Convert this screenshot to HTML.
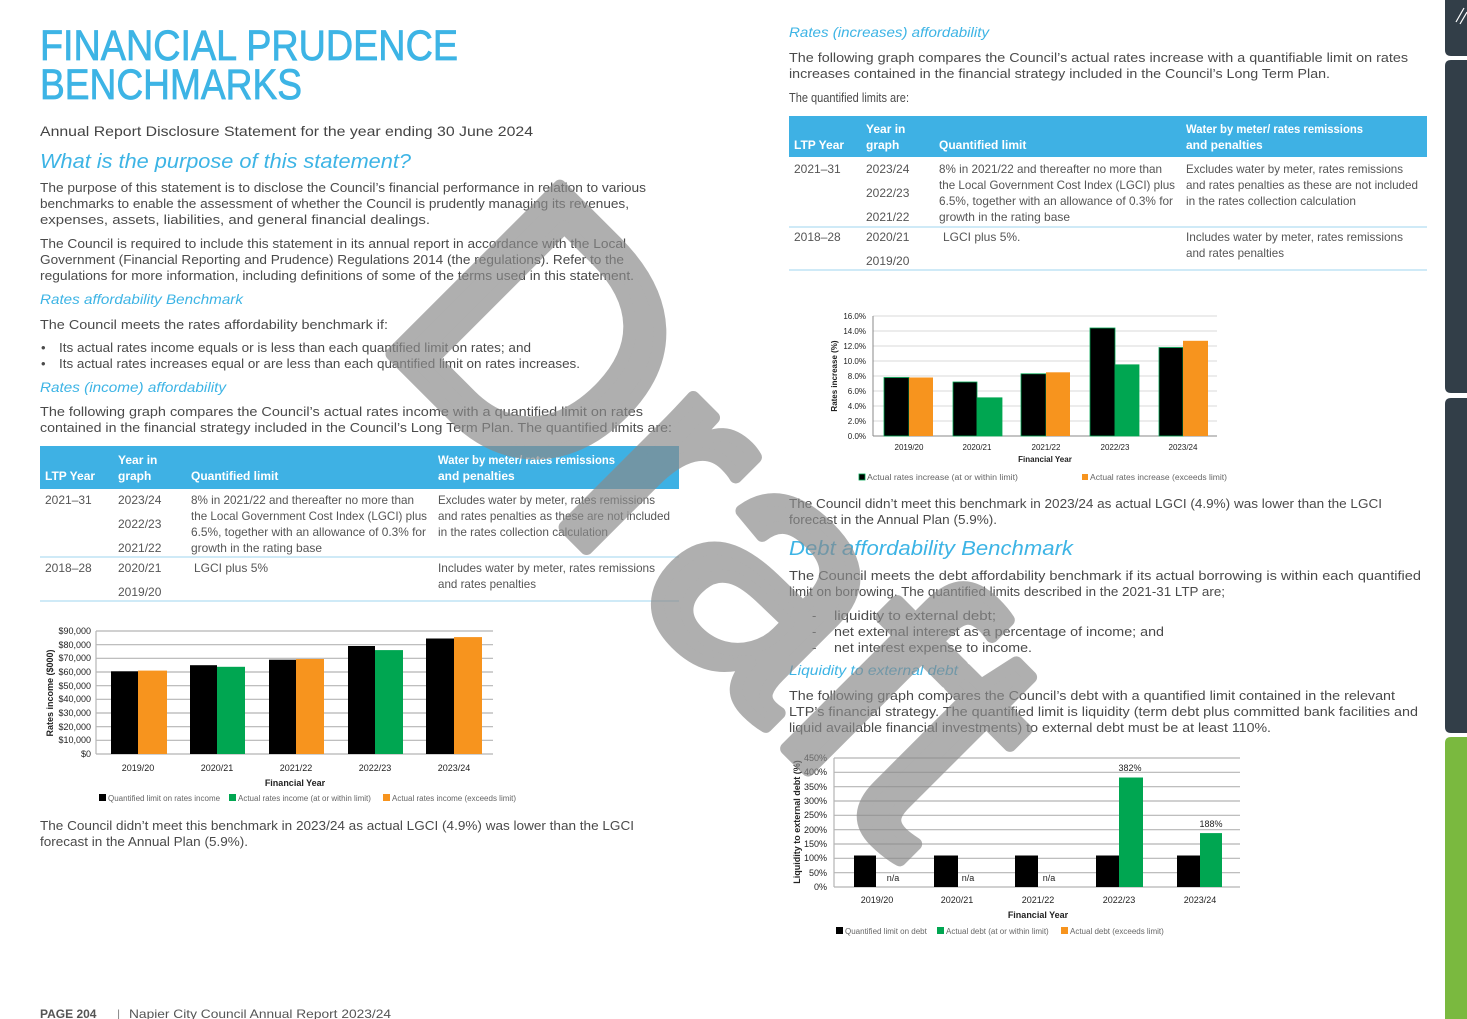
<!DOCTYPE html>
<html><head><meta charset="utf-8"><style>
html,body{margin:0;padding:0;background:#fff;}
svg{display:block;font-family:"Liberation Sans",sans-serif;}
.b{fill:#4a4a4a;font-size:13px;}
.t{fill:#555;font-size:12px;}
.h{fill:#fff;font-size:12px;font-weight:bold;}
.c{fill:#3db4e5;font-style:italic;}
.ax{fill:#222;font-size:9px;}
.ax2{fill:#222;font-size:8px;}
.lg{fill:#666;font-size:8px;}
.g{stroke:#b5b5b5;stroke-width:1.2;}
</style></head><body>
<svg width="1467" height="1019" viewBox="0 0 1467 1019" xmlns="http://www.w3.org/2000/svg">
<!-- LEFT COLUMN -->
<text x="40" y="60" fill="#3db4e5" stroke="#3db4e5" stroke-width="0.8" font-size="43" textLength="418" lengthAdjust="spacingAndGlyphs">FINANCIAL PRUDENCE</text>
<text x="40" y="99" fill="#3db4e5" stroke="#3db4e5" stroke-width="0.8" font-size="43" textLength="262" lengthAdjust="spacingAndGlyphs">BENCHMARKS</text>
<text x="40" y="136" fill="#444" font-size="14" textLength="493" lengthAdjust="spacingAndGlyphs">Annual Report Disclosure Statement for the year ending 30 June 2024</text>
<text x="40" y="168" class="c" font-size="20" textLength="371" lengthAdjust="spacingAndGlyphs">What is the purpose of this statement?</text>
<text x="40" y="192" class="b" textLength="606" lengthAdjust="spacingAndGlyphs">The purpose of this statement is to disclose the Council’s financial performance in relation to various</text>
<text x="40" y="208" class="b" textLength="589" lengthAdjust="spacingAndGlyphs">benchmarks to enable the assessment of whether the Council is prudently managing its revenues,</text>
<text x="40" y="224" class="b" textLength="390" lengthAdjust="spacingAndGlyphs">expenses, assets, liabilities, and general financial dealings.</text>
<text x="40" y="248" class="b" textLength="586" lengthAdjust="spacingAndGlyphs">The Council is required to include this statement in its annual report in accordance with the Local</text>
<text x="40" y="264" class="b" textLength="584" lengthAdjust="spacingAndGlyphs">Government (Financial Reporting and Prudence) Regulations 2014 (the regulations). Refer to the</text>
<text x="40" y="280" class="b" textLength="594" lengthAdjust="spacingAndGlyphs">regulations for more information, including definitions of some of the terms used in this statement.</text>
<text x="40" y="304" class="c" font-size="14" textLength="203" lengthAdjust="spacingAndGlyphs">Rates affordability Benchmark</text>
<text x="40" y="329" class="b" textLength="348" lengthAdjust="spacingAndGlyphs">The Council meets the rates affordability benchmark if:</text>
<text x="41" y="352" class="b">•</text>
<text x="59" y="352" class="b" textLength="472" lengthAdjust="spacingAndGlyphs">Its actual rates income equals or is less than each quantified limit on rates; and</text>
<text x="41" y="368" class="b">•</text>
<text x="59" y="368" class="b" textLength="521" lengthAdjust="spacingAndGlyphs">Its actual rates increases equal or are less than each quantified limit on rates increases.</text>
<text x="40" y="392" class="c" font-size="14" textLength="186" lengthAdjust="spacingAndGlyphs">Rates (income) affordability</text>
<text x="40" y="416" class="b" textLength="603" lengthAdjust="spacingAndGlyphs">The following graph compares the Council’s actual rates income with a quantified limit on rates</text>
<text x="40" y="432" class="b" textLength="632" lengthAdjust="spacingAndGlyphs">contained in the financial strategy included in the Council’s Long Term Plan. The quantified limits are:</text>
<!-- left table -->
<rect x="40" y="446" width="639" height="43" fill="#3eb1e4"/>
<text x="45" y="480" class="h">LTP Year</text>
<text x="118" y="464" class="h">Year in</text><text x="118" y="480" class="h">graph</text>
<text x="191" y="480" class="h">Quantified limit</text>
<text x="438" y="464" class="h" textLength="177" lengthAdjust="spacingAndGlyphs">Water by meter/ rates remissions</text>
<text x="438" y="480" class="h">and penalties</text>
<text x="45" y="504" class="t">2021–31</text>
<text x="118" y="504" class="t">2023/24</text><text x="118" y="528" class="t">2022/23</text><text x="118" y="552" class="t">2021/22</text>
<text x="191" y="504" class="t" textLength="223" lengthAdjust="spacingAndGlyphs">8% in 2021/22 and thereafter no more than</text>
<text x="191" y="520" class="t" textLength="236" lengthAdjust="spacingAndGlyphs">the Local Government Cost Index (LGCI) plus</text>
<text x="191" y="536" class="t" textLength="235" lengthAdjust="spacingAndGlyphs">6.5%, together with an allowance of 0.3% for</text>
<text x="191" y="552" class="t" textLength="131" lengthAdjust="spacingAndGlyphs">growth in the rating base</text>
<text x="438" y="504" class="t" textLength="217" lengthAdjust="spacingAndGlyphs">Excludes water by meter, rates remissions</text>
<text x="438" y="520" class="t" textLength="232" lengthAdjust="spacingAndGlyphs">and rates penalties as these are not included</text>
<text x="438" y="536" class="t" textLength="170" lengthAdjust="spacingAndGlyphs">in the rates collection calculation</text>
<line x1="40" y1="557" x2="679" y2="557" stroke="#9fd6ef" stroke-width="1"/>
<text x="45" y="572" class="t">2018–28</text>
<text x="118" y="572" class="t">2020/21</text><text x="118" y="596" class="t">2019/20</text>
<text x="194" y="572" class="t">LGCI plus 5%</text>
<text x="438" y="572" class="t" textLength="217" lengthAdjust="spacingAndGlyphs">Includes water by meter, rates remissions</text>
<text x="438" y="588" class="t" textLength="98" lengthAdjust="spacingAndGlyphs">and rates penalties</text>
<line x1="40" y1="601" x2="679" y2="601" stroke="#9fd6ef" stroke-width="1"/>
<!-- chart 1 -->
<g class="g">
<line x1="96" y1="631" x2="493" y2="631"/><line x1="96" y1="644.7" x2="493" y2="644.7"/><line x1="96" y1="658.3" x2="493" y2="658.3"/><line x1="96" y1="672" x2="493" y2="672"/><line x1="96" y1="685.7" x2="493" y2="685.7"/><line x1="96" y1="699.3" x2="493" y2="699.3"/><line x1="96" y1="713" x2="493" y2="713"/><line x1="96" y1="726.7" x2="493" y2="726.7"/><line x1="96" y1="740.3" x2="493" y2="740.3"/><line x1="96" y1="754" x2="493" y2="754"/><line x1="96" y1="631" x2="96" y2="754"/>
</g>
<g class="ax" text-anchor="end">
<text x="91" y="634">$90,000</text><text x="91" y="648">$80,000</text><text x="91" y="661">$70,000</text><text x="91" y="675">$60,000</text><text x="91" y="689">$50,000</text><text x="91" y="702">$40,000</text><text x="91" y="716">$30,000</text><text x="91" y="730">$20,000</text><text x="91" y="743">$10,000</text><text x="91" y="757">$0</text>
</g>
<rect x="111" y="671.3" width="27" height="82.7" fill="#000"/><rect x="138" y="670.6" width="29" height="83.4" fill="#f7941e"/>
<rect x="190" y="665.2" width="27" height="88.8" fill="#000"/><rect x="217" y="666.8" width="28" height="87.2" fill="#00a651"/>
<rect x="269" y="659.7" width="27" height="94.3" fill="#000"/><rect x="296" y="659" width="28" height="95" fill="#f7941e"/>
<rect x="348" y="646" width="27" height="108" fill="#000"/><rect x="375" y="650.1" width="28" height="103.9" fill="#00a651"/>
<rect x="426" y="638.5" width="28" height="115.5" fill="#000"/><rect x="454" y="637.1" width="28" height="116.9" fill="#f7941e"/>
<g class="ax" text-anchor="middle">
<text x="138" y="771">2019/20</text><text x="217" y="771">2020/21</text><text x="296" y="771">2021/22</text><text x="375" y="771">2022/23</text><text x="454" y="771">2023/24</text>
<text x="295" y="786" font-weight="bold">Financial Year</text>
</g>
<text transform="translate(53,693) rotate(-90)" class="ax" font-weight="bold" text-anchor="middle">Rates income ($000)</text>
<rect x="99" y="794" width="7" height="7" fill="#000"/><text x="108" y="801" class="lg">Quantified limit on rates income</text>
<rect x="229" y="794" width="7" height="7" fill="#00a651"/><text x="238" y="801" class="lg">Actual rates income (at or within limit)</text>
<rect x="383" y="794" width="7" height="7" fill="#f7941e"/><text x="392" y="801" class="lg">Actual rates income (exceeds limit)</text>
<text x="40" y="830" class="b" textLength="594" lengthAdjust="spacingAndGlyphs">The Council didn’t meet this benchmark in 2023/24 as actual LGCI (4.9%) was lower than the LGCI</text>
<text x="40" y="846" class="b" textLength="208" lengthAdjust="spacingAndGlyphs">forecast in the Annual Plan (5.9%).</text>
<text x="40" y="1018" fill="#555" font-size="12" font-weight="bold">PAGE 204</text>
<text x="117" y="1018" fill="#888" font-size="12">|</text>
<text x="129" y="1018" fill="#555" font-size="12" textLength="262" lengthAdjust="spacingAndGlyphs">Napier City Council Annual Report 2023/24</text>

<!-- RIGHT COLUMN -->
<text x="789" y="37" class="c" font-size="14" textLength="200" lengthAdjust="spacingAndGlyphs">Rates (increases) affordability</text>
<text x="789" y="62" class="b" textLength="619" lengthAdjust="spacingAndGlyphs">The following graph compares the Council’s actual rates increase with a quantifiable limit on rates</text>
<text x="789" y="78" class="b" textLength="541" lengthAdjust="spacingAndGlyphs">increases contained in the financial strategy included in the Council’s Long Term Plan.</text>
<text x="789" y="102" class="b" textLength="120" lengthAdjust="spacingAndGlyphs">The quantified limits are:</text>
<rect x="789" y="116" width="638" height="41" fill="#3eb1e4"/>
<text x="794" y="149" class="h">LTP Year</text>
<text x="866" y="133" class="h">Year in</text><text x="866" y="149" class="h">graph</text>
<text x="939" y="149" class="h">Quantified limit</text>
<text x="1186" y="133" class="h" textLength="177" lengthAdjust="spacingAndGlyphs">Water by meter/ rates remissions</text>
<text x="1186" y="149" class="h">and penalties</text>
<text x="794" y="173" class="t">2021–31</text>
<text x="866" y="173" class="t">2023/24</text><text x="866" y="197" class="t">2022/23</text><text x="866" y="221" class="t">2021/22</text>
<text x="939" y="173" class="t" textLength="223" lengthAdjust="spacingAndGlyphs">8% in 2021/22 and thereafter no more than</text>
<text x="939" y="189" class="t" textLength="236" lengthAdjust="spacingAndGlyphs">the Local Government Cost Index (LGCI) plus</text>
<text x="939" y="205" class="t" textLength="234" lengthAdjust="spacingAndGlyphs">6.5%, together with an allowance of 0.3% for</text>
<text x="939" y="221" class="t" textLength="131" lengthAdjust="spacingAndGlyphs">growth in the rating base</text>
<text x="1186" y="173" class="t" textLength="217" lengthAdjust="spacingAndGlyphs">Excludes water by meter, rates remissions</text>
<text x="1186" y="189" class="t" textLength="232" lengthAdjust="spacingAndGlyphs">and rates penalties as these are not included</text>
<text x="1186" y="205" class="t" textLength="170" lengthAdjust="spacingAndGlyphs">in the rates collection calculation</text>
<line x1="789" y1="227" x2="1427" y2="227" stroke="#9fd6ef" stroke-width="1"/>
<text x="794" y="241" class="t">2018–28</text>
<text x="866" y="241" class="t">2020/21</text><text x="866" y="265" class="t">2019/20</text>
<text x="943" y="241" class="t">LGCI plus 5%.</text>
<text x="1186" y="241" class="t" textLength="217" lengthAdjust="spacingAndGlyphs">Includes water by meter, rates remissions</text>
<text x="1186" y="257" class="t" textLength="98" lengthAdjust="spacingAndGlyphs">and rates penalties</text>
<line x1="789" y1="270" x2="1427" y2="270" stroke="#9fd6ef" stroke-width="1"/>
<!-- chart 2 -->
<g stroke="#d9d9d9" stroke-width="1">
<line x1="873" y1="316" x2="1217" y2="316"/><line x1="873" y1="331" x2="1217" y2="331"/><line x1="873" y1="346" x2="1217" y2="346"/><line x1="873" y1="361" x2="1217" y2="361"/><line x1="873" y1="376" x2="1217" y2="376"/><line x1="873" y1="391" x2="1217" y2="391"/><line x1="873" y1="406" x2="1217" y2="406"/><line x1="873" y1="421" x2="1217" y2="421"/>
</g>
<line x1="873" y1="436" x2="1217" y2="436" stroke="#888"/><line x1="873" y1="316" x2="873" y2="436" stroke="#888"/>
<g class="ax2" text-anchor="end">
<text x="866" y="319">16.0%</text><text x="866" y="334">14.0%</text><text x="866" y="349">12.0%</text><text x="866" y="364">10.0%</text><text x="866" y="379">8.0%</text><text x="866" y="394">6.0%</text><text x="866" y="409">4.0%</text><text x="866" y="424">2.0%</text><text x="866" y="439">0.0%</text>
</g>
<g stroke="#00a651" stroke-width="0.8">
<rect x="884" y="377.5" width="25" height="58.5" fill="#000"/><rect x="909" y="377.5" width="24" height="58.5" fill="#f7941e" stroke="none"/>
<rect x="953" y="382" width="24" height="54" fill="#000"/><rect x="977" y="397.8" width="25" height="38.2" fill="#00a651"/>
<rect x="1021" y="373.8" width="25" height="62.2" fill="#000"/><rect x="1046" y="372.3" width="24" height="63.7" fill="#f7941e" stroke="none"/>
<rect x="1090" y="328" width="25" height="108" fill="#000"/><rect x="1115" y="364.8" width="24" height="71.2" fill="#00a651"/>
<rect x="1159" y="347.5" width="24" height="88.5" fill="#000"/><rect x="1183" y="340.8" width="25" height="95.2" fill="#f7941e" stroke="none"/>
</g>
<g class="ax2" text-anchor="middle">
<text x="909" y="450">2019/20</text><text x="977" y="450">2020/21</text><text x="1046" y="450">2021/22</text><text x="1115" y="450">2022/23</text><text x="1183" y="450">2023/24</text>
<text x="1045" y="462" font-weight="bold">Financial Year</text>
</g>
<text transform="translate(837,376) rotate(-90)" class="ax2" font-size="7.5" font-weight="bold" text-anchor="middle">Rates increase (%)</text>
<rect x="859" y="474" width="6" height="6" fill="#000" stroke="#00a651" stroke-width="0.8"/><text x="867" y="480" class="lg" textLength="151" lengthAdjust="spacingAndGlyphs">Actual rates increase (at or within limit)</text>
<rect x="1082" y="474" width="6" height="6" fill="#f7941e"/><text x="1090" y="480" class="lg" textLength="137" lengthAdjust="spacingAndGlyphs">Actual rates increase (exceeds limit)</text>
<text x="789" y="508" class="b" textLength="593" lengthAdjust="spacingAndGlyphs">The Council didn’t meet this benchmark in 2023/24 as actual LGCI (4.9%) was lower than the LGCI</text>
<text x="789" y="524" class="b" textLength="208" lengthAdjust="spacingAndGlyphs">forecast in the Annual Plan (5.9%).</text>
<text x="789" y="555" class="c" font-size="20" textLength="284" lengthAdjust="spacingAndGlyphs">Debt affordability Benchmark</text>
<text x="789" y="580" class="b" textLength="632" lengthAdjust="spacingAndGlyphs">The Council meets the debt affordability benchmark if its actual borrowing is within each quantified</text>
<text x="789" y="596" class="b" textLength="436" lengthAdjust="spacingAndGlyphs">limit on borrowing. The quantified limits described in the 2021-31 LTP are;</text>
<text x="812" y="620" class="b">-</text><text x="834" y="620" class="b" textLength="162" lengthAdjust="spacingAndGlyphs">liquidity to external debt;</text>
<text x="812" y="636" class="b">-</text><text x="834" y="636" class="b" textLength="330" lengthAdjust="spacingAndGlyphs">net external interest as a percentage of income; and</text>
<text x="812" y="652" class="b">-</text><text x="834" y="652" class="b" textLength="198" lengthAdjust="spacingAndGlyphs">net interest expense to income.</text>
<text x="789" y="675" class="c" font-size="14" textLength="169" lengthAdjust="spacingAndGlyphs">Liquidity to external debt</text>
<text x="789" y="700" class="b" textLength="606" lengthAdjust="spacingAndGlyphs">The following graph compares the Council’s debt with a quantified limit contained in the relevant</text>
<text x="789" y="716" class="b" textLength="629" lengthAdjust="spacingAndGlyphs">LTP’s financial strategy. The quantified limit is liquidity (term debt plus committed bank facilities and</text>
<text x="789" y="732" class="b" textLength="482" lengthAdjust="spacingAndGlyphs">liquid available financial investments) to external debt must be at least 110%.</text>
<!-- chart 3 -->
<g class="g">
<line x1="834" y1="758" x2="1240" y2="758"/><line x1="834" y1="772.3" x2="1240" y2="772.3"/><line x1="834" y1="786.7" x2="1240" y2="786.7"/><line x1="834" y1="801" x2="1240" y2="801"/><line x1="834" y1="815.3" x2="1240" y2="815.3"/><line x1="834" y1="829.7" x2="1240" y2="829.7"/><line x1="834" y1="844" x2="1240" y2="844"/><line x1="834" y1="858.3" x2="1240" y2="858.3"/><line x1="834" y1="872.7" x2="1240" y2="872.7"/><line x1="834" y1="887" x2="1240" y2="887"/><line x1="834" y1="758" x2="834" y2="887"/>
</g>
<g class="ax" text-anchor="end">
<text x="827" y="761">450%</text><text x="827" y="775">400%</text><text x="827" y="790">350%</text><text x="827" y="804">300%</text><text x="827" y="818">250%</text><text x="827" y="833">200%</text><text x="827" y="847">150%</text><text x="827" y="861">100%</text><text x="827" y="876">50%</text><text x="827" y="890">0%</text>
</g>
<rect x="854" y="855.5" width="22" height="31.5" fill="#000"/>
<rect x="934" y="855.5" width="24" height="31.5" fill="#000"/>
<rect x="1015" y="855.5" width="23" height="31.5" fill="#000"/>
<rect x="1096" y="855.5" width="23" height="31.5" fill="#000"/><rect x="1119" y="777.5" width="24" height="109.5" fill="#00a651"/>
<rect x="1177" y="855.5" width="23" height="31.5" fill="#000"/><rect x="1200" y="833.1" width="22" height="53.9" fill="#00a651"/>
<g class="ax" text-anchor="middle">
<text x="893" y="881">n/a</text><text x="968" y="881">n/a</text><text x="1049" y="881">n/a</text>
<text x="1130" y="771">382%</text><text x="1211" y="827">188%</text>
<text x="877" y="903">2019/20</text><text x="957" y="903">2020/21</text><text x="1038" y="903">2021/22</text><text x="1119" y="903">2022/23</text><text x="1200" y="903">2023/24</text>
<text x="1038" y="918" font-weight="bold">Financial Year</text>
</g>
<text transform="translate(800,822) rotate(-90)" class="ax" font-weight="bold" text-anchor="middle">Liquidity  to external debt (%)</text>
<rect x="836" y="927" width="7" height="7" fill="#000"/><text x="845" y="934" class="lg">Quantified limit on debt</text>
<rect x="937" y="927" width="7" height="7" fill="#00a651"/><text x="946" y="934" class="lg">Actual debt (at or within limit)</text>
<rect x="1061" y="927" width="7" height="7" fill="#f7941e"/><text x="1070" y="934" class="lg">Actual debt (exceeds limit)</text>

<!-- right tabs -->
<path d="M1467 0 V56 H1451 Q1445 56 1445 50 V0 Z" fill="#323e48"/>
<path d="M1456 22 L1464 8 M1460 24 L1467 12" stroke="#fff" stroke-width="1.2"/>
<path d="M1467 60 V393 H1451 Q1445 393 1445 387 V66 Q1445 60 1451 60 Z" fill="#323e48"/>
<path d="M1467 398 V733 H1451 Q1445 733 1445 727 V404 Q1445 398 1451 398 Z" fill="#323e48"/>
<path d="M1467 737 V1019 H1445 V743 Q1445 737 1451 737 Z" fill="#7ab93f"/>

<!-- watermark -->
<g opacity="0.68">
<text transform="translate(372,334) rotate(45)" font-size="345" fill="#8a8a8a" stroke="#8a8a8a" stroke-width="13" stroke-linejoin="round" font-family="Liberation Sans, sans-serif">Draft</text>
</g>
</svg>
</body></html>
